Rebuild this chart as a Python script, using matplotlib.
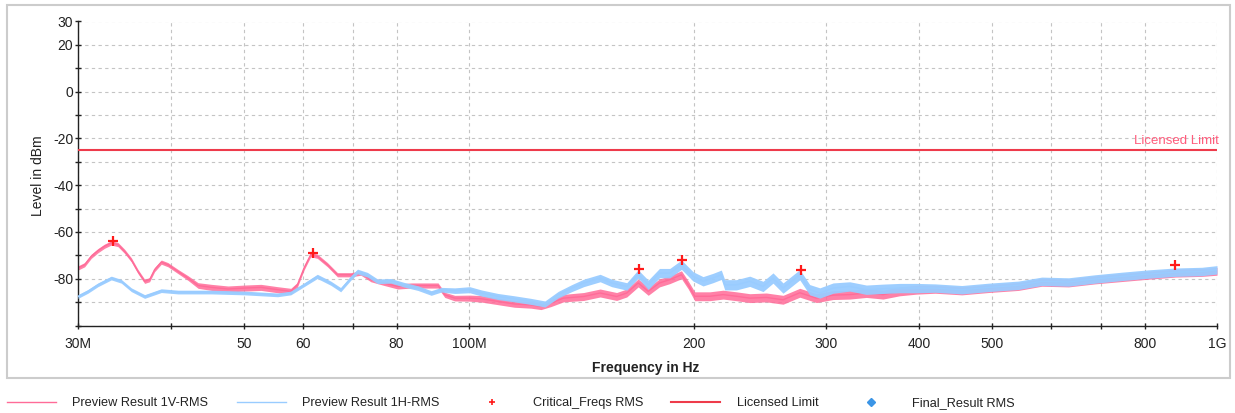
import matplotlib
matplotlib.use("Agg")
import matplotlib.pyplot as plt
from matplotlib.lines import Line2D
from matplotlib.patches import Rectangle
import numpy as np

plt.rcParams['font.family'] = ['Liberation Sans', 'DejaVu Sans']

# ---- data (frequency in MHz, level in dBm) ----
v_freq = [30, 30.62, 31.25, 31.9, 32.55, 33.24, 33.93, 34.63, 35.35, 36.08, 36.83, 37.4,
          37.98, 38.77, 39.57, 40.81, 42.09, 43.42, 45.24, 47.6, 50.09, 52.7, 55.46,
          57.76, 58.95, 60.17, 61.41, 62.68, 64.66, 66.68, 69.5, 71.67, 73.91, 77.03,
          80.29, 83.69, 87.22, 90.9, 92.79, 95.69, 100.2, 103.9, 109.3, 115.0, 121.0,
          124.8, 128.7, 133.7, 142.3, 149.7, 157.5, 162.5, 168.3, 173.6, 179.7, 185.5,
          192.3, 196.3, 200.3, 209.8, 218.6, 227.7, 237.3, 249.7, 262.9, 276.8, 291.4,
          306.7, 322.8, 339.8, 357.6, 376.4, 396.2, 419.9, 455.8, 494.9, 542.7, 583.1,
          633.0, 687.2, 746.0, 809.9, 879.2, 954.4, 1000.0]
v_level = [-75.4, -74.0, -70.4, -68.0, -66.1, -64.7, -65.4, -68.3, -71.9, -76.9, -81.1,
           -80.4, -76.1, -72.9, -74.0, -76.9, -79.7, -82.9, -83.7, -84.4, -84.0, -83.7,
           -84.7, -85.4, -82.6, -75.4, -69.7, -70.4, -74.0, -78.3, -78.3, -77.6, -80.4,
           -81.9, -83.3, -82.9, -82.9, -82.9, -86.9, -88.3, -88.3, -88.6, -89.7, -90.8,
           -91.2, -91.8, -90.4, -88.3, -87.6, -86.1, -87.6, -86.1, -81.8, -85.4, -81.8,
           -80.4, -78.3, -82.6, -87.5, -87.5, -86.8, -87.5, -88.3, -88.0, -89.0, -86.0,
           -88.3, -87.0, -86.8, -86.1, -86.8, -85.4, -84.7, -84.5, -85.2, -84.2, -83.3,
           -81.5, -81.8, -80.5, -79.5, -78.5, -77.6, -77.3, -76.8]
v_spread = [0.9, 0.9, 0.9, 0.9, 0.9, 0.9, 0.9, 0.9, 0.9, 0.9, 0.9, 0.9,
            0.9, 0.9, 0.9, 0.9, 1.0, 1.2, 1.3, 1.3, 1.3, 1.3, 1.3,
            1.3, 1.0, 0.9, 0.9, 0.9, 0.9, 0.9, 0.9, 0.9, 0.9, 1.0,
            1.1, 1.1, 1.1, 1.1, 1.1, 1.2, 1.3, 1.4, 1.4, 1.4, 1.4,
            1.4, 1.5, 1.6, 1.7, 1.7, 1.7, 1.7, 1.7, 1.7, 1.7, 1.7,
            1.7, 1.7, 1.9, 1.9, 1.9, 1.9, 1.9, 1.9, 1.9, 1.9, 1.9,
            1.9, 1.9, 1.9, 1.9, 1.9, 1.9, 1.7, 1.7, 1.7, 1.7, 1.7,
            1.7, 1.7, 1.7, 1.7, 1.7, 1.7, 1.7]

h_freq = [30, 30.93, 31.9, 33.24, 34.28, 35.35, 36.83, 38.77, 40.81, 45.24, 50.09, 55.46,
          57.76, 60.17, 62.68, 65.32, 67.35, 69.5, 70.93, 73.14, 75.44, 78.62, 81.94,
          85.4, 89.0, 91.8, 95.69, 100.2, 103.9, 109.3, 115.0, 121.0, 126.3, 131.6,
          137.2, 142.3, 149.7, 155.1, 162.5, 168.3, 173.6, 179.7, 185.5, 192.3, 199.3,
          205.5, 211.9, 217.4, 219.7, 227.7, 237.3, 247.2, 254.9, 262.9, 276.8, 285.4,
          294.4, 306.7, 322.8, 339.8, 357.6, 376.4, 396.2, 419.9, 455.8, 494.9, 542.7,
          583.1, 633.0, 687.2, 746.0, 809.9, 879.2, 954.4, 1000.0]
h_level = [-87.6, -85.4, -82.6, -79.7, -81.1, -84.7, -87.6, -85.1, -85.7, -85.7, -86.1,
           -86.9, -86.1, -82.6, -79.0, -81.9, -84.7, -79.7, -76.9, -78.3, -81.1, -80.9,
           -82.6, -84.0, -86.1, -84.7, -85.1, -84.7, -86.1, -87.6, -88.6, -89.7, -90.8,
           -86.8, -84.0, -81.8, -79.7, -81.8, -83.3, -78.0, -82.6, -77.6, -77.6, -74.0,
           -79.0, -81.1, -79.7, -78.3, -82.6, -82.6, -81.1, -83.3, -79.7, -84.0, -78.3,
           -84.7, -86.1, -84.0, -83.3, -84.7, -84.3, -84.0, -84.0, -84.0, -84.7, -83.7,
           -82.8, -81.1, -81.4, -80.1, -79.0, -78.0, -77.2, -76.9, -76.2]
h_spread = [0.8, 0.8, 0.8, 0.8, 0.8, 0.8, 0.8, 0.8, 0.8, 0.8, 0.8, 0.8,
            0.8, 0.8, 0.9, 0.9, 0.9, 0.9, 1.0, 1.0, 1.0, 1.0, 1.0,
            1.0, 1.0, 1.0, 1.2, 1.3, 1.3, 1.3, 1.3, 1.3, 1.3, 1.4,
            1.5, 1.6, 1.6, 1.6, 1.6, 1.8, 2.0, 2.0, 2.0, 2.0, 2.0,
            2.0, 2.0, 2.0, 2.2, 2.2, 2.2, 2.2, 2.2, 2.2, 2.2, 2.2,
            2.2, 2.2, 2.0, 2.0, 2.0, 2.0, 2.0, 1.8, 1.8, 1.8, 1.8,
            1.8, 1.8, 1.8, 1.8, 1.8, 1.8, 1.8, 1.8]

crit_freq = [33.4, 61.8, 168.7, 192.6, 277.9, 878.7]
crit_level = [-63.8, -68.9, -75.7, -71.9, -76.2, -74.0]

limit_freq = [30, 1000]
limit_level = [-25, -25]

xtick_vals = [30, 40, 50, 60, 70, 80, 100, 200, 300, 400, 500, 600, 700, 800, 1000]
xtick_labels = ['30M', '', '50', '60', '', '80', '100M', '200', '300', '400', '500',
                '', '', '800', '1G']
ytick_vals = list(range(-100, 31, 10))
ytick_labels = ['' if t in (-100, -90, -70, -50, -30, -10, 10) else str(t) for t in ytick_vals]

# ---- colors ----
C_V = '#ff6b98'
C_H = '#99ccff'
C_LIM = '#ee3b4b'
C_CRIT = '#ff1a1a'
C_FIN = '#3b95e6'

W, H = 1235, 413
fig = plt.figure(figsize=(W / 100, H / 100), dpi=100)
ax = fig.add_axes([78 / W, 1 - 325.5 / H, (1217 - 78) / W, (325.5 - 21.5) / H])

fmul = 1e6
vf = np.array(v_freq) * fmul
hf = np.array(h_freq) * fmul
vl = np.array(v_level); vs = np.array(v_spread)
hl = np.array(h_level); hs = np.array(h_spread)

ax.fill_between(vf, vl - vs, vl + vs, color=C_V, alpha=0.85, lw=0, zorder=2)
ax.plot(vf, vl, color=C_V, lw=1.0, zorder=2)
ax.fill_between(hf, hl - hs, hl + hs, color=C_H, alpha=0.95, lw=0, zorder=3)
ax.plot(hf, hl, color=C_H, lw=1.0, zorder=3)

ax.plot(np.array(limit_freq) * fmul, limit_level, color=C_LIM, lw=1.5, zorder=4)
ax.text(1005e6, limit_level[0] + 1.3, 'Licensed Limit', color='#ff5c7c', fontsize=9.5,
        ha='right', va='bottom', zorder=5)

ax.plot(np.array(crit_freq) * fmul, crit_level, ls='none', marker='+', ms=7, mew=1.6,
        color=C_CRIT, zorder=6)

ax.set_xscale('log')
ax.set_xlim(30e6, 1000e6)
ax.set_ylim(-100, 30)
ax.set_xticks([v * fmul for v in xtick_vals])
ax.set_xticklabels(xtick_labels)
ax.xaxis.set_minor_locator(matplotlib.ticker.NullLocator())
ax.set_yticks(ytick_vals)
ax.set_yticklabels(ytick_labels)

for s in ('top', 'right'):
    ax.spines[s].set_visible(False)
for s in ('left', 'bottom'):
    ax.spines[s].set_color('#222222')
    ax.spines[s].set_linewidth(1.0)

ax.tick_params(axis='both', direction='inout', length=4, width=1, colors='#222222',
               labelsize=10, labelcolor='#222222')
ax.tick_params(axis='y', pad=1.5)
ax.tick_params(axis='x', pad=6)
ax.grid(True, ls=(0, (3, 3)), color='#c4c4c4', lw=0.8, zorder=0)
ax.set_axisbelow(True)

fig.text(646 / W, 1 - 368 / H, 'Frequency in Hz', ha='center', va='center',
         fontsize=10, fontweight='bold', color='#222222')
fig.text(38 / W, 1 - 176 / H, 'Level in dBm', ha='center', va='center',
         rotation=90, fontsize=10, color='#222222')

fig.patches.append(Rectangle((7 / W, 1 - 378 / H), (1230 - 7) / W, (378 - 5) / H,
                             transform=fig.transFigure, fill=False,
                             edgecolor='#cccccc', lw=1.5))

handles = [
    Line2D([], [], color=C_V, lw=1),
    Line2D([], [], color=C_H, lw=1),
    Line2D([], [], color=C_CRIT, ls='none', marker='+', ms=5, mew=1.2),
    Line2D([], [], color=C_LIM, lw=1.5),
    Line2D([], [], color=C_FIN, ls='none', marker='D', ms=4.5),
]
labels = ['Preview Result 1V-RMS', 'Preview Result 1H-RMS', 'Critical_Freqs RMS',
          'Licensed Limit', 'Final_Result RMS']
fig.legend(handles, labels, loc='center left', bbox_to_anchor=(7 / W, 1 - 403 / H),
           ncol=5, frameon=False, fontsize=9.2, handlelength=3.84, handletextpad=1.28,
           columnspacing=2.2, borderpad=0, borderaxespad=0, labelcolor='#222222')

fig.savefig('out.png', dpi=100)
